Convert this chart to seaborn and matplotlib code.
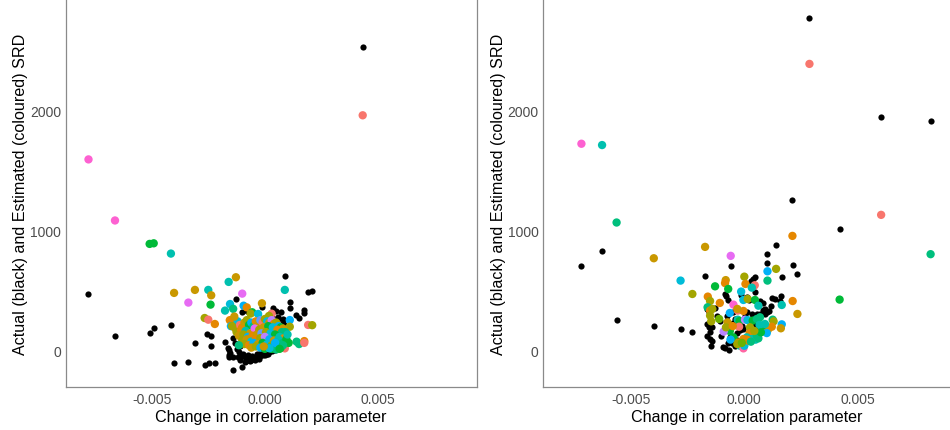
import numpy as np
import pandas as pd
import matplotlib
matplotlib.use("Agg")
import matplotlib.pyplot as plt
import seaborn as sns

# ggplot-style hue palette, 15 levels
group_colours = ["#F8766D", "#E58700", "#C99800", "#A3A500", "#6BB100",
                 "#00BA38", "#00BF7D", "#00C0AF", "#00BCD8", "#00B0F6",
                 "#619CFF", "#B983FF", "#E76BF3", "#FD61D1", "#FF67A4"]

# left panel: actual SRD (black)
left_actual_x = [0.00432, -0.00779, -0.00662, -0.00509, -0.00491, -0.00415, -0.00309, -0.00401,
                 -0.00338, -0.00266, -0.00248, -0.00221, -0.00140, -0.00100, 0.00088, 0.00191,
                 0.00209, 0.00110, 0.00110, 0.00138, 0.00151, 0.00174, 0.00174, -0.00128,
                 -0.00240, -0.00254, -0.00237, -0.00176, -0.00165, -0.00154, -0.00158, -0.00100,
                 -0.00079, 0.00037, 0.00059, -0.00013, 0.00080, 0.00085, 0.00090, 0.00060,
                 -0.00115, -0.00105, -0.00090, -0.00080, -0.00070, -0.00060, -0.00050, -0.00040,
                 -0.00030, -0.00020, -0.00010, 0.00000, 0.00010, 0.00020, 0.00030, 0.00045,
                 0.00060, 0.00075, 0.00085, 0.00095, 0.00090, -0.00125, -0.00095, -0.00075,
                 -0.00055, -0.00035, -0.00015, 0.00005, 0.00025, 0.00050, 0.00070, -0.00130,
                 -0.00140, -0.00160, -0.00140, -0.00110, -0.00085, -0.00065, -0.00045, -0.00025,
                 0.00070, 0.00080, -0.00100, -0.00060, 0.00030, 0.00070, -0.00030, 0.00050,
                 -0.00160, -0.00110, 0.00080, 0.00100, 0.00065, -0.00120, -0.00090, 0.00015]
left_actual_y = [2534, 469, 120, 145, 182, 207, 56, -106,
                 -98, -123, -109, -106, -168, -140, 623, 485,
                 497, 405, 349, 296, 268, 332, 313, 427,
                 31, 134, 115, 70, 14, -25, -56, 316,
                 327, 349, 279, 357, 230, 210, 190, 260,
                 -20, -50, -60, -70, -75, -80, -75, -70,
                 -60, -50, -45, -40, -30, -20, -10, 0,
                 20, 40, 70, 110, 150, 10, -30, -40,
                 -50, -35, -20, -10, 5, 30, 60, 60,
                 100, -40, -60, -80, -90, -95, -85, -75,
                 170, 120, 100, 200, 280, 320, 300, 330,
                 0, 30, 260, 60, 90, -55, -100, -35]

# left panel: estimated SRD (coloured by group)
left_est_x = [0.00432, -0.00779, -0.00662, -0.00509, -0.00491, -0.00415, -0.00401, -0.00309,
              -0.00338, -0.00250, -0.00237, -0.00240, -0.00266, -0.00250, -0.00221, -0.00128,
              -0.00160, -0.00100, -0.00154, -0.00176, -0.00140, -0.00094, -0.00080, -0.00013,
              -0.00056, -0.00063, -0.00030, 0.00088, 0.00030, 0.00018, 0.00110, 0.00110,
              0.00191, 0.00209, 0.00059, 0.00140, 0.00151, 0.00174, 0.00174, 0.00088,
              0.00105, -0.00140, -0.00155, -0.00150, -0.00130, -0.00120, -0.00110, -0.00100,
              -0.00090, -0.00080, -0.00070, -0.00060, -0.00050, -0.00040, -0.00030, -0.00020,
              -0.00010, 0.00000, 0.00010, 0.00020, 0.00030, 0.00040, 0.00050, 0.00060,
              0.00070, 0.00080, 0.00090, -0.00125, -0.00105, -0.00085, -0.00065, -0.00045,
              -0.00025, -0.00005, 0.00015, 0.00035, 0.00055, 0.00075, -0.00115, -0.00095,
              -0.00075, -0.00055, -0.00035, -0.00015, 0.00005, 0.00025, 0.00045, 0.00065,
              0.00085, -0.00100, -0.00080, -0.00060, -0.00040, -0.00020, 0.00000, 0.00020,
              0.00040, 0.00060, 0.00080, -0.00090, -0.00070, -0.00050, -0.00030, -0.00010,
              0.00010, 0.00030, 0.00050, 0.00070, -0.00060, -0.00040, -0.00020, 0.00000,
              0.00020, 0.00040, 0.00060, -0.00135, -0.00145, 0.00095, 0.00100, -0.00115,
              0.00030, 0.00050, 0.00070, 0.00020, 0.00080, -0.00005, 0.00045, 0.00065]
left_est_y = [1964, 1595, 1084, 888, 893, 807, 478, 503,
              397, 503, 458, 380, 268, 254, 218, 609,
              570, 472, 385, 330, 345, 371, 357, 391,
              316, 305, 302, 503, 304, 285, 251, 195,
              210, 208, 204, 70, 50, 75, 60, 14,
              60, 230, 250, 200, 180, 240, 210, 190,
              230, 250, 210, 230, 200, 240, 220, 250,
              230, 260, 240, 230, 250, 220, 230, 200,
              190, 180, 150, 150, 170, 160, 140, 180,
              170, 190, 200, 190, 170, 150, 120, 130,
              110, 120, 130, 140, 150, 140, 130, 110,
              100, 80, 90, 70, 90, 100, 110, 90,
              80, 90, 60, 50, 40, 60, 50, 60,
              50, 40, 50, 30, 20, 30, 20, 10,
              20, 15, 25, 280, 200, 90, 130, 40,
              10, 5, 20, 15, 40, 30, 60, 10]
left_est_group = [0, 13, 13, 5, 5, 7, 2, 2,
                  12, 7, 2, 5, 3, 0, 1, 2,
                  7, 12, 8, 7, 6, 9, 1, 2,
                  5, 3, 8, 7, 0, 3, 9, 3,
                  0, 3, 1, 6, 6, 1, 0, 0,
                  5, 3, 1, 9, 2, 8, 0, 1,
                  2, 3, 5, 9, 6, 1, 2, 10,
                  0, 3, 8, 2, 11, 1, 3, 9,
                  5, 2, 6, 3, 1, 7, 2, 12,
                  3, 2, 5, 8, 1, 6, 2, 3,
                  9, 1, 2, 10, 3, 8, 5, 7,
                  1, 3, 2, 8, 1, 3, 11, 9,
                  2, 7, 6, 3, 1, 9, 2, 5,
                  8, 3, 7, 6, 2, 3, 9, 5,
                  6, 7, 5, 2, 3, 5, 7, 6,
                  5, 6, 5, 8, 6, 2, 9, 5]

# right panel: actual SRD (black)
right_actual_x = [0.00288, 0.00604, 0.00822, 0.00213, 0.00421, 0.00141, 0.00103, 0.00103,
                  0.00214, 0.00235, 0.00166, -0.00059, -0.00626, -0.00717, -0.00562, -0.00398,
                  -0.00280, -0.00228, -0.00172, 0.00047, 0.00038, 0.00029, 0.00046, -0.00084,
                  -0.00079, -0.00015, 0.00012, 0.00021, 0.00125, 0.00134, 0.00163, 0.00159,
                  0.00071, 0.00082, 0.00120, -0.00128, -0.00164, -0.00156, -0.00070, -0.00106,
                  -0.00163, -0.00156, -0.00150, -0.00143, -0.00145, -0.00092, -0.00082, -0.00065,
                  -0.00053, -0.00040, -0.00032, -0.00018, -0.00003, 0.00023, 0.00041, 0.00056,
                  0.00085, 0.00100, 0.00092, 0.00056, 0.00034, 0.00012, 0.00004, -0.00047,
                  -0.00040, -0.00076, -0.00120, -0.00164, -0.00150, -0.00070, -0.00060, -0.00030,
                  0.00070, 0.00110, 0.00090, 0.00050, 0.00015, -0.00010, -0.00100, 0.00060,
                  -0.00140, -0.00050]
right_actual_y = [2782, 1950, 1916, 1257, 1011, 880, 802, 726,
                  715, 634, 612, 707, 827, 704, 251, 198,
                  179, 148, 623, 612, 598, 578, 489, 472,
                  448, 460, 446, 418, 437, 423, 454, 412,
                  408, 391, 371, 352, 344, 316, 416, 240,
                  218, 190, 148, 73, 31, 28, 20, 0,
                  56, 36, 140, 168, 176, 92, 148, 190,
                  335, 318, 344, 302, 302, 316, 288, 316,
                  260, 288, 288, 120, 90, 60, 110, 80,
                  300, 330, 300, 210, 120, 200, 120, 120,
                  190, 230]

# right panel: estimated SRD (coloured by group)
right_est_x = [0.00288, -0.00717, -0.00626, 0.00604, -0.00562, 0.00213, -0.00172, -0.00398,
               0.00822, -0.00059, 0.00141, 0.00103, -0.00280, 0.00103, 0.00001, -0.00081,
               -0.00084, 0.00006, 0.00047, -0.00128, -0.00070, 0.00034, -0.00228, -0.00013,
               -0.00003, -0.00160, -0.00150, -0.00107, 0.00016, 0.00048, 0.00063, 0.00166,
               0.00214, 0.00235, 0.00421, -0.00161, -0.00150, -0.00140, -0.00047, -0.00063,
               -0.00028, -0.00003, -0.00030, -0.00150, -0.00145, -0.00073, -0.00028, -0.00020,
               0.00004, 0.00015, 0.00038, 0.00056, 0.00070, 0.00126, 0.00130, 0.00166,
               0.00162, 0.00102, 0.00105, 0.00122, 0.00080, 0.00092, 0.00068, 0.00100,
               -0.00022, 0.00026, 0.00024, -0.00063, -0.00090, -0.00080, -0.00047, -0.00060,
               0.00012, 0.00034, 0.00050, 0.00063, -0.00003, 0.00012, -0.00025, -0.00018,
               -0.00003, 0.00001, 0.00019, 0.00070, 0.00056, 0.00074, -0.00030, 0.00030,
               -0.00010, 0.00045, -0.00050, -0.00110]
right_est_y = [2394, 1726, 1715, 1131, 1067, 955, 863, 768,
               802, 788, 679, 659, 581, 581, 614, 585,
               560, 553, 542, 533, 511, 522, 469, 489,
               419, 447, 410, 394, 427, 419, 371, 377,
               410, 302, 422, 358, 330, 344, 380, 310,
               330, 327, 344, 288, 240, 232, 254, 243,
               254, 251, 246, 260, 274, 254, 240, 215,
               182, 180, 170, 195, 204, 218, 210, 142,
               195, 190, 140, 159, 154, 190, 106, 87,
               106, 92, 87, 98, 92, 87, 64, 36,
               14, 36, 78, 148, 120, 148, 50, 70,
               60, 160, 200, 260]
right_est_group = [0, 13, 7, 0, 6, 1, 2, 2,
                   6, 12, 3, 9, 8, 6, 3, 2,
                   1, 1, 0, 5, 5, 7, 3, 8,
                   8, 1, 3, 1, 3, 5, 7, 7,
                   1, 2, 5, 6, 1, 3, 13, 9,
                   0, 1, 2, 3, 3, 2, 7, 5,
                   11, 8, 5, 6, 6, 6, 3, 9,
                   2, 3, 2, 1, 5, 7, 7, 9,
                   0, 3, 1, 5, 11, 3, 5, 9,
                   7, 7, 7, 6, 1, 1, 2, 7,
                   14, 8, 1, 7, 6, 5, 3, 6,
                   4, 3, 1, 4]

x_ticks = [-0.005, 0.0, 0.005]
x_tick_labels = ["-0.005", "0.000", "0.005"]
y_ticks = [0, 1000, 2000]
y_tick_labels = ["0", "1000", "2000"]

sns.set_style("white")
plt.rcParams['font.family'] = ['Liberation Sans', 'DejaVu Sans']
plt.rcParams['axes.unicode_minus'] = False

fig = plt.figure(figsize=(9.5, 4.31), dpi=100)
ax_left = fig.add_axes([0.0692, 0.099, 0.4326, 0.901])
ax_right = fig.add_axes([0.5719, 0.099, 0.4281, 0.901])

palette = {str(i): c for i, c in enumerate(group_colours)}


def draw_panel(ax, ax_x, ax_y, est_x, est_y, est_group, xlim, show_right):
    actual = pd.DataFrame({"x": ax_x, "y": ax_y})
    est = pd.DataFrame({"x": est_x, "y": est_y,
                        "group": [str(g) for g in est_group]})
    sns.scatterplot(data=actual, x="x", y="y", color="black", s=20,
                    linewidth=0, ax=ax, zorder=2)
    sns.scatterplot(data=est, x="x", y="y", hue="group", palette=palette,
                    s=36, linewidth=0, legend=False, ax=ax, zorder=3)
    ax.set_xlim(*xlim)
    ax.set_ylim(-312, 2937)
    ax.set_xticks(x_ticks)
    ax.set_xticklabels(x_tick_labels)
    ax.set_yticks(y_ticks)
    ax.set_yticklabels(y_tick_labels)
    ax.tick_params(axis="both", colors="#8a8a8a", labelcolor="#4D4D4D",
                   labelsize=10, length=2.5, width=0.8, direction="out", pad=1)
    for side in ["left", "bottom", "right"]:
        ax.spines[side].set_color("#8a8a8a")
        ax.spines[side].set_linewidth(0.9)
    ax.spines["top"].set_visible(False)
    ax.spines["right"].set_visible(show_right)
    ax.set_xlabel("Change in correlation parameter", fontsize=11.6,
                  color="black", labelpad=2)
    ax.set_ylabel("Actual (black) and Estimated (coloured) SRD",
                  fontsize=11.6, color="black", labelpad=1.2)


draw_panel(ax_left, left_actual_x, left_actual_y, left_est_x, left_est_y,
           left_est_group, (-0.008795, 0.009355), True)
draw_panel(ax_right, right_actual_x, right_actual_y, right_est_x, right_est_y,
           right_est_group, (-0.00885, 0.009075), False)

fig.savefig("out.png", dpi=100)
